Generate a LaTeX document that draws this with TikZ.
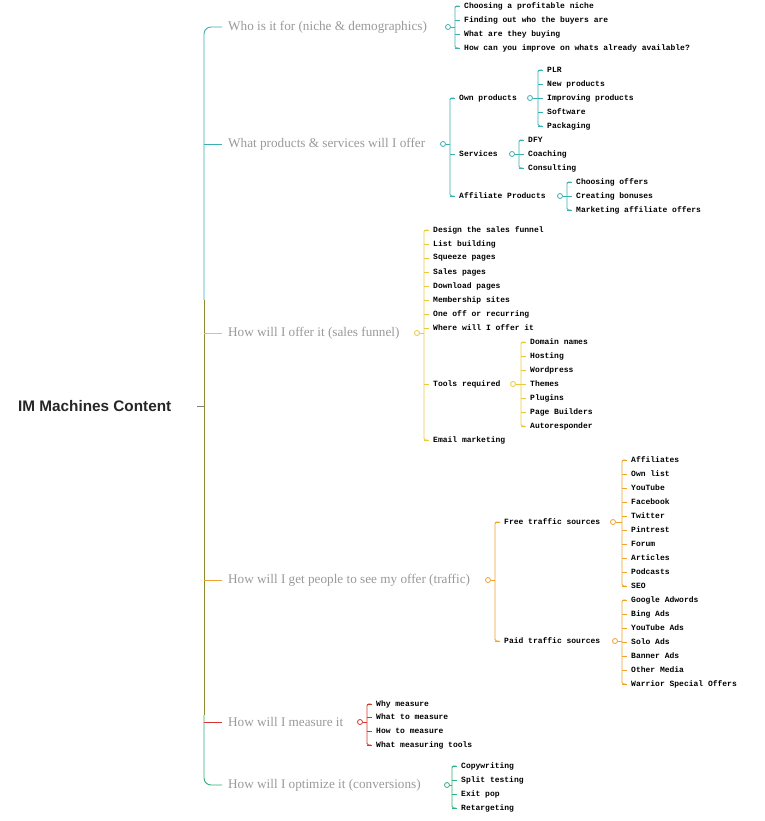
\documentclass[tikz,border=0pt]{standalone}
\usepackage{fontspec}
\setmainfont{Liberation Serif}
\newfontfamily\leaffont{Liberation Mono}
\newfontfamily\rootfont{Liberation Sans}
\definecolor{cA}{HTML}{3AAFB0}
\definecolor{cB}{HTML}{E9C83C}
\definecolor{cC}{HTML}{EFA22E}
\definecolor{cD}{HTML}{D2362E}
\definecolor{cE}{HTML}{2FAF7A}
\definecolor{cS}{HTML}{8C8C2E}
\tikzset{
 leaf/.style={anchor=west,inner sep=0pt,font=\leaffont\bfseries\fontsize{8}{9}\selectfont},
 branch/.style={anchor=west,inner sep=0pt,text=gray!80,font=\fontsize{13.2}{15}\selectfont},
 knob/.style={circle,draw,line width=0.8pt,minimum size=5pt,inner sep=0pt,fill=white},
 ln/.style={line width=0.9pt}
}
\newcommand\kid[5]{\node[leaf] (#1) at (#3+9,#4) {#5};\draw[ln,#2] (#3,#4) -- ([xshift=-4pt]#1.west);}
\newcommand\vbar[4]{\draw[ln,#1,rounded corners=1.5pt] (#2+4,#3) -- (#2,#3) -- (#2,#4) -- (#2+4,#4);}
\begin{document}
\begin{tikzpicture}[x=1pt,y=-1pt]
\useasboundingbox (0,0) rectangle (764,821);
% root
\node[anchor=west,inner sep=0pt,font=\rootfont\bfseries\fontsize{15.3}{17}\selectfont,text=gray!30!black] (root) at (18,406) {IM Machines Content};
\coordinate (rj) at (204,406);
\draw[ln,gray] (197,406) -- (rj);
% spine
\draw[ln,cA,rounded corners=7pt] (222,27) -- (204,27) -- (204,300);
\draw[ln,cS] (204,300) -- (204,715);
\draw[ln,cE,rounded corners=7pt] (204,715) -- (204,785) -- (222,785);
\draw[ln,cA] (204,144) -- (222,144);
\draw[ln,cB] (204,333) -- (222,333);
\draw[ln,cC] (204,580) -- (222,580);
\draw[ln,cD] (204,722) -- (222,722);
% branch 1
\node[branch] (b1) at (228,27) {Who is it for (niche \& demographics)};
\node[knob,draw=cA] (k1) at (448,27) {};
\draw[ln,cA] (k1.east) -- (455,27);
\vbar{cA}{455}{6}{48}
\kid{a1}{cA}{455}{6}{Choosing a profitable niche}
\kid{a2}{cA}{455}{20}{Finding out who the buyers are}
\kid{a3}{cA}{455}{34}{What are they buying}
\kid{a4}{cA}{455}{48}{How can you improve on whats already available?}
% branch 2
\node[branch] (b2) at (228,144) {What products \& services will I offer};
\node[knob,draw=cA] (k2) at (443,144) {};
\draw[ln,cA] (k2.east) -- (450,144);
\vbar{cA}{450}{98}{196}
\kid{p1}{cA}{450}{98}{Own products}
\kid{p2}{cA}{450}{154}{Services}
\kid{p3}{cA}{450}{196}{Affiliate Products}
\node[knob,draw=cA] (kp1) at (530,98) {};
\draw[ln,cA] (kp1.east) -- (538,98);
\vbar{cA}{538}{70}{126}
\kid{o1}{cA}{538}{70}{PLR}
\kid{o2}{cA}{538}{84}{New products}
\kid{o3}{cA}{538}{98}{Improving products}
\kid{o4}{cA}{538}{112}{Software}
\kid{o5}{cA}{538}{126}{Packaging}
\node[knob,draw=cA] (kp2) at (512,154) {};
\draw[ln,cA] (kp2.east) -- (519,154);
\vbar{cA}{519}{140}{168}
\kid{s1}{cA}{519}{140}{DFY}
\kid{s2}{cA}{519}{154}{Coaching}
\kid{s3}{cA}{519}{168}{Consulting}
\node[knob,draw=cA] (kp3) at (560,196) {};
\draw[ln,cA] (kp3.east) -- (567,196);
\vbar{cA}{567}{182}{210}
\kid{f1}{cA}{567}{182}{Choosing offers}
\kid{f2}{cA}{567}{196}{Creating bonuses}
\kid{f3}{cA}{567}{210}{Marketing affiliate offers}
% branch 3
\node[branch] (b3) at (228,333) {How will I offer it (sales funnel)};
\node[knob,draw=cB] (k3) at (417,333) {};
\draw[ln,cB] (k3.east) -- (424,333);
\vbar{cB}{424}{230}{440}
\kid{d1}{cB}{424}{230}{Design the sales funnel}
\kid{d2}{cB}{424}{244}{List building}
\kid{d3}{cB}{424}{258}{Squeeze pages}
\kid{d4}{cB}{424}{272}{Sales pages}
\kid{d5}{cB}{424}{286}{Download pages}
\kid{d6}{cB}{424}{300}{Membership sites}
\kid{d7}{cB}{424}{314}{One off or recurring}
\kid{d8}{cB}{424}{328}{Where will I offer it}
\kid{d9}{cB}{424}{384}{Tools required}
\kid{d10}{cB}{424}{440}{Email marketing}
\node[knob,draw=cB] (kt) at (513,384) {};
\draw[ln,cB] (kt.east) -- (521,384);
\vbar{cB}{521}{342}{426}
\kid{t1}{cB}{521}{342}{Domain names}
\kid{t2}{cB}{521}{356}{Hosting}
\kid{t3}{cB}{521}{370}{Wordpress}
\kid{t4}{cB}{521}{384}{Themes}
\kid{t5}{cB}{521}{398}{Plugins}
\kid{t6}{cB}{521}{412}{Page Builders}
\kid{t7}{cB}{521}{426}{Autoresponder}
% branch 4
\node[branch] (b4) at (228,580) {How will I get people to see my offer (traffic)};
\node[knob,draw=cC] (k4) at (488,580) {};
\draw[ln,cC] (k4.east) -- (495,580);
\vbar{cC}{495}{522}{641}
\kid{g1}{cC}{495}{522}{Free traffic sources}
\kid{g2}{cC}{495}{641}{Paid traffic sources}
\node[knob,draw=cC] (kg1) at (613,522) {};
\draw[ln,cC] (kg1.east) -- (622,522);
\vbar{cC}{622}{460}{586}
\kid{r1}{cC}{622}{460}{Affiliates}
\kid{r2}{cC}{622}{474}{Own list}
\kid{r3}{cC}{622}{488}{YouTube}
\kid{r4}{cC}{622}{502}{Facebook}
\kid{r5}{cC}{622}{516}{Twitter}
\kid{r6}{cC}{622}{530}{Pintrest}
\kid{r7}{cC}{622}{544}{Forum}
\kid{r8}{cC}{622}{558}{Articles}
\kid{r9}{cC}{622}{572}{Podcasts}
\kid{r10}{cC}{622}{586}{SEO}
\node[knob,draw=cC] (kg2) at (615,641) {};
\draw[ln,cC] (kg2.east) -- (622,641);
\vbar{cC}{622}{600}{684}
\kid{q1}{cC}{622}{600}{Google Adwords}
\kid{q2}{cC}{622}{614}{Bing Ads}
\kid{q3}{cC}{622}{628}{YouTube Ads}
\kid{q4}{cC}{622}{642}{Solo Ads}
\kid{q5}{cC}{622}{656}{Banner Ads}
\kid{q6}{cC}{622}{670}{Other Media}
\kid{q7}{cC}{622}{684}{Warrior Special Offers}
% branch 5
\node[branch] (b5) at (228,722) {How will I measure it};
\node[knob,draw=cD] (k5) at (360,722) {};
\draw[ln,cD] (k5.east) -- (367,722);
\vbar{cD}{367}{704}{745}
\kid{m1}{cD}{367}{704}{Why measure}
\kid{m2}{cD}{367}{717}{What to measure}
\kid{m3}{cD}{367}{731}{How to measure}
\kid{m4}{cD}{367}{745}{What measuring tools}
% branch 6
\node[branch] (b6) at (228,785) {How will I optimize it (conversions)};
\node[knob,draw=cE] (k6) at (447,785) {};
\draw[ln,cE] (k6.east) -- (452,785);
\vbar{cE}{452}{766}{808}
\kid{n1}{cE}{452}{766}{Copywriting}
\kid{n2}{cE}{452}{780}{Split testing}
\kid{n3}{cE}{452}{794}{Exit pop}
\kid{n4}{cE}{452}{808}{Retargeting}
\end{tikzpicture}
\end{document}
